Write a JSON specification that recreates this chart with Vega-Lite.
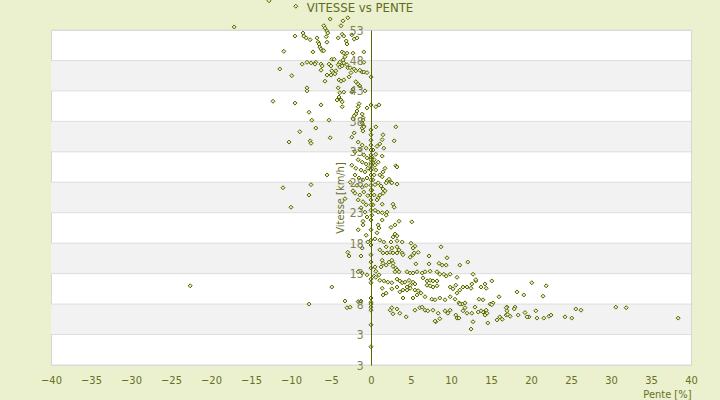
{
"$schema": "https://vega.github.io/schema/vega-lite/v6.json",
"width": 640, "height": 335,
"autosize": {"type": "none"},
"padding": {"left": 51, "top": 30, "right": 29, "bottom": 35},
"background": "#ebf0cf",
"title": {"text": "VITESSE vs PENTE", "fontSize": 13, "font": "DejaVu Sans Condensed, DejaVu Sans", "fontWeight": "normal", "color": "#5f6b1d", "offset": -18, "frame": "group", "dx": -11},
"config": {"view": {"stroke": "#d6d6d6", "fill": "white"},
 "axisX": {"values": [-40,-35,-30,-25,-20,-15,-10,-5,0,5,10,15,20,25,30,35,40], "labelOverlap": false, "titleAnchor": "end", "titleAlign": "right", "titlePadding": 3, "ticks": false, "domain": false, "grid": false, "labelPadding": 9, "labelFlush": false, "labelFontSize": 11, "labelFont": "DejaVu Sans Condensed, DejaVu Sans", "labelColor": "#66701f", "titleFontSize": 11, "titleFont": "DejaVu Sans Condensed, DejaVu Sans", "titleFontWeight": "normal", "titleColor": "#66701f"},
 "axisY": {"values": [-2,3,8,13,18,23,28,33,38,43,48,53], "labelOverlap": false, "labelExpr": "datum.value < 0 ? '3' : datum.label", "offset": -320, "zindex": 1, "grid": false, "ticks": false, "domainColor": "#5a6600", "domainWidth": 1, "labelPadding": 8, "labelFontSize": 12, "labelFont": "DejaVu Sans Condensed, DejaVu Sans", "labelColor": "#80804f", "titleFontSize": 11, "titleFont": "DejaVu Sans Condensed, DejaVu Sans", "titleFontWeight": "normal", "titleColor": "#66701f", "titlePadding": 4}
},
"layer": [
{"data": {"values": [{"v": 43, "v2": 48}, {"v": 33, "v2": 38}, {"v": 23, "v2": 28}, {"v": 13, "v2": 18}, {"v": 3, "v2": 8}]},
 "mark": {"type": "rect", "fill": "#f2f2f2"},
 "encoding": {"y": {"field": "v", "type": "quantitative", "title": "Vitesse [km/h]", "axis": {"values": [-2,3,8,13,18,23,28,33,38,43,48,53], "zindex": 1, "offset": -320}}, "y2": {"field": "v2"}, "x": {"datum": -40, "type": "quantitative", "title": "Pente [%]", "axis": {"values": [-40,-35,-30,-25,-20,-15,-10,-5,0,5,10,15,20,25,30,35,40]}}, "x2": {"datum": 40}}},
{"data": {"values": [{"v": -2}, {"v": 3}, {"v": 8}, {"v": 13}, {"v": 18}, {"v": 23}, {"v": 28}, {"v": 33}, {"v": 38}, {"v": 43}, {"v": 48}, {"v": 53}]},
 "mark": {"type": "rule", "stroke": "#dddddd", "strokeWidth": 1},
 "encoding": {"y": {"field": "v", "type": "quantitative", "title": "Vitesse [km/h]", "axis": {"values": [-2,3,8,13,18,23,28,33,38,43,48,53], "zindex": 1, "offset": -320}}, "x": {"datum": -40, "type": "quantitative", "title": "Pente [%]", "axis": {"values": [-40,-35,-30,-25,-20,-15,-10,-5,0,5,10,15,20,25,30,35,40]}}, "x2": {"datum": 40}}},
{"data": {"values": [
{"p":-12.75,"v":57.8},{"p":-9.4,"v":56.9},{"p":-17.1,"v":53.5},{"p":-5.9,"v":53.7},{"p":-5.1,"v":54.8},{"p":-3.75,"v":53.7},{"p":-3.5,"v":54.5},{"p":-2.9,"v":55.0},{"p":-5.75,"v":53.3},{"p":-5.5,"v":52.8},{"p":-9.5,"v":52.0},{"p":-8.5,"v":52.5},{"p":-8.4,"v":52.0},{"p":-8.1,"v":51.7},{"p":-7.6,"v":51.4},{"p":-6.75,"v":51.7},{"p":-6.6,"v":51.0},{"p":-6.5,"v":50.7},{"p":-6.4,"v":50.2},{"p":-6.25,"v":49.9},{"p":-6.1,"v":49.6},{"p":-5.9,"v":49.6},{"p":-5.6,"v":51.9},{"p":-5.4,"v":52.5},{"p":-5.5,"v":51.0},{"p":-7.25,"v":49.4},{"p":-10.9,"v":49.5},{"p":-4.1,"v":51.7},{"p":-3.6,"v":52.3},{"p":-3.4,"v":52.0},{"p":-3.1,"v":51.2},{"p":-3.0,"v":50.7},{"p":-2.1,"v":51.5},{"p":-1.75,"v":51.7},{"p":-2.4,"v":52.2},{"p":-3.6,"v":49.4},{"p":-3.4,"v":49.2},{"p":-3.0,"v":49.2},{"p":-2.25,"v":49.2},{"p":-0.9,"v":49.4},{"p":-4.9,"v":48.2},{"p":-4.6,"v":48.2},{"p":-3.9,"v":47.7},{"p":-3.5,"v":48.1},{"p":-3.25,"v":48.6},{"p":-8.0,"v":47.7},{"p":-7.5,"v":47.6},{"p":-6.9,"v":47.7},{"p":-7.0,"v":47.4},{"p":-8.6,"v":47.4},{"p":-6.25,"v":47.4},{"p":-6.1,"v":47.1},{"p":-6.25,"v":46.4},{"p":-5.25,"v":47.4},{"p":-5.0,"v":47.1},{"p":-4.9,"v":46.3},{"p":-4.4,"v":46.3},{"p":-4.5,"v":45.8},{"p":-4.1,"v":47.3},{"p":-3.9,"v":46.9},{"p":-3.6,"v":47.1},{"p":-3.4,"v":47.6},{"p":-3.0,"v":47.3},{"p":-2.9,"v":46.8},{"p":-2.6,"v":46.8},{"p":-2.5,"v":46.0},{"p":-2.1,"v":46.6},{"p":-1.9,"v":46.3},{"p":-1.4,"v":46.4},{"p":-1.1,"v":46.1},{"p":-0.9,"v":47.7},{"p":-0.9,"v":46.1},{"p":-0.5,"v":46.0},{"p":-11.4,"v":46.6},{"p":-9.9,"v":45.5},{"p":-5.5,"v":45.6},{"p":-5.0,"v":45.6},{"p":-5.75,"v":44.6},{"p":-4.0,"v":44.8},{"p":-3.75,"v":44.6},{"p":-3.4,"v":44.8},{"p":-2.75,"v":45.3},{"p":-1.9,"v":44.5},{"p":-1.6,"v":44.1},{"p":-1.4,"v":43.8},{"p":-0.75,"v":43.0},{"p":-8.0,"v":43.5},{"p":-8.0,"v":43.0},{"p":-4.1,"v":43.5},{"p":-3.9,"v":42.7},{"p":-2.4,"v":42.8},{"p":-2.25,"v":43.3},{"p":-3.4,"v":42.8},{"p":-12.25,"v":41.3},{"p":-9.5,"v":41.0},{"p":-6.25,"v":40.7},{"p":-4.25,"v":41.5},{"p":-4.0,"v":42.0},{"p":-3.75,"v":41.5},{"p":-3.6,"v":40.4},{"p":-3.6,"v":41.2},{"p":-7.75,"v":39.5},{"p":-7.4,"v":38.2},{"p":-5.25,"v":38.2},{"p":-6.9,"v":36.9},{"p":-1.5,"v":40.9},{"p":-1.6,"v":40.4},{"p":-1.75,"v":39.7},{"p":-1.9,"v":39.2},{"p":-2.1,"v":38.9},{"p":-2.25,"v":38.4},{"p":-1.1,"v":39.2},{"p":-1.0,"v":38.6},{"p":-1.0,"v":38.2},{"p":-1.1,"v":37.7},{"p":-0.9,"v":37.2},{"p":-1.1,"v":36.9},{"p":-0.5,"v":40.2},
{"p":-8.9,"v":36.3},{"p":-10.25,"v":34.6},{"p":-7.6,"v":34.8},{"p":-7.5,"v":34.4},{"p":-5.1,"v":35.3},{"p":-11.0,"v":27.1},{"p":-10.0,"v":23.9},{"p":-7.75,"v":25.9},{"p":-7.5,"v":27.6},{"p":-5.5,"v":29.2},{"p":-22.6,"v":11.0},{"p":-4.9,"v":10.8},{"p":-7.75,"v":8.0},{"p":-3.25,"v":8.5},{"p":-3.0,"v":7.4},{"p":-2.6,"v":7.5},{"p":-1.6,"v":8.4},{"p":-1.25,"v":8.5},{"p":-2.9,"v":16.5},{"p":-2.75,"v":15.9},{"p":-1.25,"v":15.9},{"p":-1.6,"v":13.3},{"p":-1.1,"v":13.1},{"p":-0.5,"v":12.8},{"p":0.4,"v":12.6},
{"p":-2.1,"v":36.1},{"p":-2.4,"v":35.4},{"p":-1.0,"v":36.4},{"p":-0.9,"v":37.1},{"p":-1.6,"v":34.6},{"p":-1.1,"v":34.1},{"p":-0.6,"v":33.6},{"p":-1.4,"v":33.3},{"p":-2.0,"v":33.0},{"p":-0.9,"v":32.5},{"p":-0.5,"v":32.0},{"p":-1.6,"v":31.7},{"p":-1.1,"v":31.3},{"p":-0.6,"v":31.0},{"p":-2.4,"v":30.8},{"p":-1.9,"v":30.3},{"p":-1.25,"v":30.0},{"p":-0.75,"v":29.7},{"p":-0.4,"v":30.3},{"p":-2.0,"v":29.2},{"p":-1.5,"v":28.7},{"p":-1.0,"v":28.4},{"p":-0.5,"v":28.7},{"p":-2.6,"v":28.0},{"p":-1.75,"v":27.5},{"p":-1.1,"v":27.2},{"p":-0.6,"v":27.5},{"p":-2.25,"v":26.6},{"p":-2.0,"v":26.2},{"p":-1.4,"v":25.9},{"p":-0.9,"v":26.4},{"p":-0.4,"v":25.8},{"p":-1.6,"v":25.1},{"p":-1.0,"v":24.8},{"p":-0.6,"v":24.3},{"p":-3.25,"v":25.3},{"p":-1.25,"v":23.8},{"p":-0.75,"v":23.1},{"p":-0.5,"v":22.3},{"p":-1.0,"v":21.6},{"p":-1.0,"v":21.0},{"p":-1.6,"v":20.2},{"p":-0.6,"v":19.3},{"p":-0.4,"v":18.2},{"p":-1.1,"v":17.2},
{"p":0.6,"v":40.4},{"p":1.0,"v":40.7},{"p":0.6,"v":37.1},{"p":3.1,"v":37.1},{"p":1.5,"v":35.8},{"p":1.4,"v":35.0},{"p":1.1,"v":34.3},{"p":2.9,"v":34.8},{"p":1.6,"v":33.6},{"p":0.75,"v":33.9},{"p":0.6,"v":32.6},{"p":1.4,"v":32.3},{"p":0.25,"v":33.3},{"p":0.1,"v":32.2},{"p":0.4,"v":31.7},{"p":0.25,"v":31.2},{"p":0.5,"v":30.8},{"p":0.9,"v":31.3},{"p":0.1,"v":30.3},{"p":0.6,"v":30.0},{"p":3.1,"v":30.7},{"p":1.75,"v":30.3},{"p":1.5,"v":29.7},{"p":1.1,"v":29.2},{"p":1.4,"v":28.9},{"p":2.0,"v":28.2},{"p":2.25,"v":28.5},{"p":2.5,"v":28.0},{"p":2.6,"v":27.9},{"p":1.9,"v":27.9},{"p":3.25,"v":27.7},{"p":0.9,"v":27.9},{"p":1.25,"v":27.4},{"p":1.5,"v":26.9},{"p":1.75,"v":26.6},{"p":1.5,"v":26.2},{"p":1.1,"v":25.9},{"p":0.9,"v":25.4},{"p":0.75,"v":25.1},{"p":2.75,"v":24.4},{"p":2.9,"v":23.9},{"p":1.4,"v":24.4},{"p":2.0,"v":23.1},{"p":0.25,"v":28.4},{"p":0.5,"v":27.6},{"p":0.1,"v":26.7},{"p":0.4,"v":25.9},{"p":0.25,"v":24.3},{"p":0.5,"v":23.4},{"p":0.1,"v":22.6},{"p":0.9,"v":23.1},{"p":1.4,"v":23.0},{"p":1.9,"v":22.6},{"p":1.4,"v":21.8},{"p":3.25,"v":30.5},{"p":0.4,"v":29.2},
{"p":0,"v":45.3},{"p":0,"v":40.7},{"p":0,"v":36.6},{"p":0,"v":35.8},{"p":0,"v":34.9},{"p":0,"v":34.1},{"p":0,"v":33.3},{"p":0,"v":32.5},{"p":0,"v":32.0},{"p":0,"v":31.7},{"p":0,"v":31.2},{"p":0,"v":30.8},{"p":0,"v":30.0},{"p":0,"v":29.2},{"p":0,"v":28.4},{"p":0,"v":27.5},{"p":0,"v":26.7},{"p":0,"v":25.9},{"p":0,"v":25.1},{"p":0,"v":24.3},{"p":0,"v":23.4},{"p":0,"v":21.8},{"p":0,"v":20.2},{"p":0,"v":18.5},{"p":0,"v":17.7},{"p":0,"v":16.1},{"p":0,"v":14.9},{"p":0,"v":13.9},{"p":0,"v":12.1},{"p":0,"v":11.5},{"p":0,"v":9.0},{"p":0,"v":8.3},{"p":0,"v":8.0},{"p":0,"v":7.5},{"p":0,"v":7.0},{"p":0,"v":4.6},{"p":0,"v":1.0},
{"p":5.1,"v":21.5},{"p":3.5,"v":21.6},{"p":3.0,"v":21.0},{"p":2.5,"v":20.6},{"p":0.9,"v":21.0},{"p":1.0,"v":20.5},{"p":0.75,"v":19.7},{"p":3.0,"v":19.5},{"p":3.25,"v":19.2},{"p":2.75,"v":19.0},{"p":0.5,"v":18.7},{"p":1.1,"v":18.5},{"p":1.6,"v":18.2},{"p":2.5,"v":18.2},{"p":3.25,"v":18.4},{"p":3.9,"v":18.2},{"p":5.0,"v":18.0},{"p":5.5,"v":17.5},{"p":5.25,"v":17.2},{"p":8.75,"v":17.4},{"p":9.5,"v":15.6},{"p":7.25,"v":15.9},{"p":1.9,"v":17.4},{"p":2.6,"v":17.2},{"p":3.25,"v":17.4},{"p":3.5,"v":16.9},{"p":1.1,"v":16.9},{"p":1.5,"v":16.4},{"p":2.0,"v":16.4},{"p":2.4,"v":16.5},{"p":2.75,"v":16.4},{"p":3.25,"v":16.4},{"p":3.9,"v":16.4},{"p":4.0,"v":16.1},{"p":4.9,"v":15.7},{"p":5.25,"v":16.1},{"p":5.4,"v":16.4},{"p":5.9,"v":16.5},{"p":1.4,"v":15.2},{"p":1.5,"v":14.7},{"p":1.25,"v":14.1},{"p":1.9,"v":14.4},{"p":2.25,"v":14.9},{"p":2.6,"v":15.2},{"p":2.75,"v":14.7},{"p":2.75,"v":14.2},{"p":3.1,"v":13.9},{"p":3.25,"v":13.6},{"p":3.5,"v":13.3},{"p":3.0,"v":13.3},{"p":0.5,"v":14.1},{"p":0.6,"v":13.4},{"p":5.6,"v":14.6},{"p":7.25,"v":14.6},{"p":8.5,"v":14.7},{"p":8.9,"v":14.4},{"p":9.4,"v":14.4},{"p":11.1,"v":14.4},{"p":12.1,"v":14.9},{"p":4.5,"v":13.3},{"p":4.9,"v":13.1},{"p":5.25,"v":13.1},{"p":5.75,"v":13.3},{"p":6.4,"v":13.1},{"p":6.75,"v":13.3},{"p":7.4,"v":13.4},{"p":8.25,"v":13.3},{"p":8.6,"v":12.9},{"p":9.1,"v":12.9},{"p":9.4,"v":12.6},{"p":9.9,"v":12.9},{"p":0.6,"v":12.4},{"p":1.0,"v":12.8},{"p":1.1,"v":11.9},{"p":1.6,"v":11.8},{"p":2.1,"v":11.6},{"p":2.6,"v":11.5},{"p":3.25,"v":12.1},{"p":3.6,"v":11.8},{"p":3.9,"v":11.5},{"p":4.25,"v":11.6},{"p":4.75,"v":11.9},{"p":5.25,"v":11.6},{"p":5.5,"v":11.3},{"p":4.9,"v":11.1},{"p":4.5,"v":10.8},{"p":6.5,"v":12.3},{"p":7.0,"v":11.8},{"p":7.4,"v":11.9},{"p":7.75,"v":11.8},{"p":8.25,"v":11.8},{"p":1.4,"v":10.6},{"p":1.9,"v":9.8},{"p":1.5,"v":9.5},{"p":2.6,"v":10.5},{"p":3.25,"v":10.8},{"p":3.6,"v":10.0},{"p":4.0,"v":10.3},{"p":4.5,"v":10.3},{"p":4.9,"v":10.6},{"p":5.5,"v":10.3},{"p":5.9,"v":10.2},{"p":6.25,"v":9.8},{"p":5.75,"v":9.5},{"p":7.0,"v":11.1},{"p":7.4,"v":11.0},{"p":7.75,"v":10.8},{"p":8.25,"v":11.0},{"p":9.9,"v":10.8},{"p":10.25,"v":10.5},{"p":10.75,"v":9.8},{"p":11.1,"v":10.3},{"p":11.5,"v":10.8},{"p":12.0,"v":10.8},{"p":4.0,"v":9.0},{"p":5.25,"v":9.0},{"p":6.75,"v":9.2},{"p":7.6,"v":8.8},{"p":8.0,"v":8.7},{"p":8.6,"v":9.0},{"p":9.25,"v":8.7},{"p":9.9,"v":9.2},{"p":10.5,"v":8.8},{"p":11.0,"v":8.2},{"p":11.4,"v":8.0},{"p":11.5,"v":6.9},{"p":11.75,"v":7.4},{"p":2.4,"v":7.0},{"p":2.6,"v":7.4},{"p":3.25,"v":7.2},{"p":3.6,"v":6.5},{"p":2.75,"v":6.4},{"p":4.4,"v":5.9},{"p":5.5,"v":7.0},{"p":6.1,"v":7.4},{"p":6.4,"v":7.5},{"p":6.75,"v":7.0},{"p":7.1,"v":6.9},{"p":7.75,"v":7.0},{"p":8.4,"v":6.5},{"p":9.25,"v":6.9},{"p":9.6,"v":6.5},{"p":9.9,"v":7.0},{"p":10.75,"v":5.7},{"p":11.0,"v":5.7},{"p":8.6,"v":5.6},{"p":8.1,"v":5.1},
{"p":12.75,"v":12.9},{"p":13.1,"v":11.8},{"p":12.5,"v":10.6},{"p":14.25,"v":11.3},{"p":15.1,"v":11.8},{"p":13.75,"v":10.8},{"p":14.0,"v":8.7},{"p":13.5,"v":8.8},{"p":14.9,"v":8.0},{"p":15.25,"v":8.2},{"p":16.0,"v":9.2},{"p":17.0,"v":7.5},{"p":16.9,"v":7.4},{"p":18.0,"v":7.5},{"p":17.9,"v":7.2},{"p":18.25,"v":10.0},{"p":19.1,"v":9.5},{"p":20.1,"v":11.5},{"p":21.9,"v":11.0},{"p":21.5,"v":9.3},{"p":20.6,"v":6.9},{"p":20.75,"v":5.7},{"p":19.75,"v":5.9},{"p":19.5,"v":5.9},{"p":21.6,"v":5.7},{"p":22.25,"v":6.0},{"p":22.5,"v":6.2},{"p":24.25,"v":5.9},{"p":25.1,"v":5.7},{"p":25.6,"v":7.2},{"p":26.25,"v":7.0},{"p":30.6,"v":7.5},{"p":31.9,"v":7.4},{"p":38.4,"v":5.7},{"p":18.4,"v":6.2},{"p":17.4,"v":6.0},{"p":16.9,"v":6.2},{"p":17.0,"v":6.9},{"p":16.1,"v":5.9},{"p":16.4,"v":5.5},{"p":15.75,"v":5.4},{"p":14.6,"v":4.9},{"p":12.75,"v":5.1},{"p":12.5,"v":3.9},{"p":14.5,"v":6.5},{"p":14.25,"v":6.2},{"p":14.4,"v":7.0},{"p":14.0,"v":6.7},{"p":13.75,"v":6.9},{"p":13.0,"v":7.5},{"p":13.4,"v":6.7},{"p":12.0,"v":6.5},{"p":12.6,"v":6.5},{"p":11.1,"v":8.0},{"p":11.75,"v":8.2},{"p":10.6,"v":6.2},{"p":8.0,"v":5.2},{"p":19.25,"v":6.6},{"p":17.1,"v":6.3},{"p":13.1,"v":12.0},{"p":10.75,"v":12.4},{"p":10.6,"v":11.1},{"p":12.6,"v":11.3},{"p":14.4,"v":10.6},{"p":15.1,"v":7.9}
]},
 "mark": {"type": "point", "shape": "diamond", "size": 16, "filled": false, "fill": "#e9edc0", "stroke": "#556300", "strokeWidth": 1, "opacity": 1},
 "encoding": {
 "x": {"field": "p", "type": "quantitative", "title": "Pente [%]", "scale": {"domain": [-40, 40], "nice": false, "zero": false}, "axis": {"values": [-40,-35,-30,-25,-20,-15,-10,-5,0,5,10,15,20,25,30,35,40]}},
 "y": {"field": "v", "type": "quantitative", "title": "Vitesse [km/h]", "scale": {"domain": [-2, 53], "nice": false, "zero": false}, "axis": {"values": [-2,3,8,13,18,23,28,33,38,43,48,53], "zindex": 1, "offset": -320}}
 }}
]
}
